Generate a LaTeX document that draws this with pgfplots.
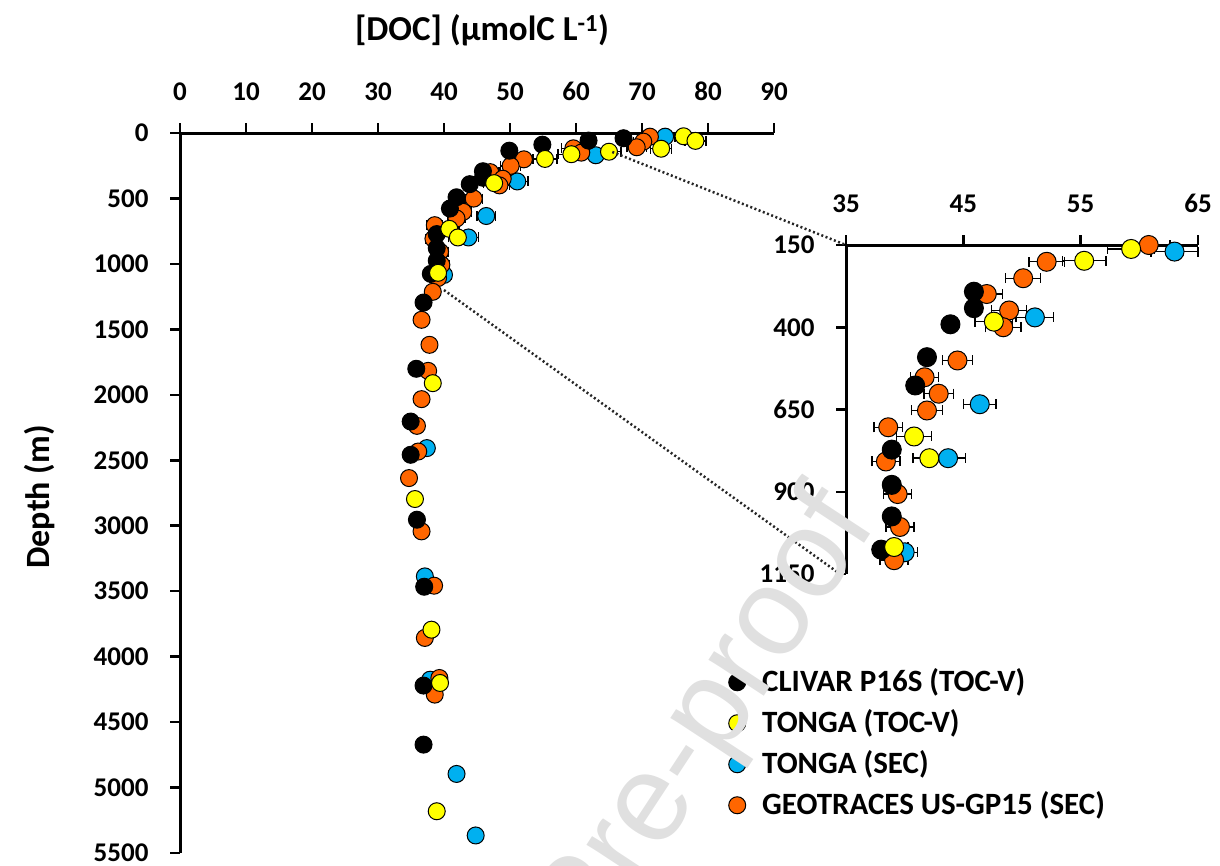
\documentclass[border=0pt]{standalone}
\usepackage{fontspec}
\setmainfont{Carlito}
\newfontfamily\wmfont{Liberation Sans}
\usepackage{pgfplots}
\usepackage{pgfplotstable}
\pgfplotsset{compat=1.18}

\definecolor{cyel}{RGB}{255,255,0}
\definecolor{cblu}{RGB}{0,176,240}
\definecolor{cora}{RGB}{255,102,0}

% x = [DOC] (umolC/L), y = depth (m), e = error
\pgfplotstableread{
x y
67.2 40
61.9 58
54.9 89
49.9 135
45.9 292
45.9 342
43.9 391
41.9 491
40.9 577
38.9 772
38.9 879
38.9 975
38.0 1076
36.9 1295
35.8 1801
34.95 2204
34.95 2458
35.9 2954
37.0 3466
36.9 4221
36.9 4672
}\tclivar

\pgfplotstableread{
x y e
76.3 25 1.0
78.1 60 1.6
72.9 120 1.6
65.0 143 1.8
59.3 162 2.0
55.3 198 1.85
47.6 383 1.6
40.8 732 1.5
42.1 798 1.4
39.1 1068 1.2
38.3 1911 0
35.6 2796 0
38.1 3794 0
39.4 4201 0
38.9 5181 0
}\ttongatoc

\pgfplotstableread{
x y e
73.5 28 1.5
63.0 170 2.0
51.1 370 1.6
46.4 634 1.4
43.7 798 1.5
40.0 1084 1.1
37.4 2407 0
37.1 3387 0
37.9 4176 0
41.9 4896 0
44.8 5366 0
}\ttongasec

\pgfplotstableread{
x y e
71.2 28 1.5
70.2 66 1.5
69.2 109 1.5
59.6 117 1.8
60.8 150 1.8
52.1 201 1.5
50.1 251 1.5
47.0 299 1.35
48.9 349 1.5
48.4 400 1.5
44.5 501 1.3
41.7 552 1.2
42.9 602 1.25
41.9 653 1.3
38.6 704 1.2
38.4 808 1.2
39.4 907 1.2
39.6 1007 1.2
39.1 1108 1.2
38.3 1213 0
36.6 1427 0
37.8 1618 0
37.6 1817 0
36.6 2033 0
35.9 2237 0
36.1 2433 0
34.7 2636 0
36.6 3043 0
38.5 3458 0
37.1 3857 0
39.3 4163 0
38.6 4290 0
}\tgeo

\pgfplotsset{
  docaxis/.style={
    scale only axis,
    y dir=reverse,
    axis x line=top,
    axis y line=left,
    axis line style={line width=3pt,-},
    every tick/.style={line width=2.5pt,black},
    major tick length=10pt,
    tick align=outside,
    ticklabel style={font=\bfseries\fontsize{27}{27}\selectfont},
    xticklabel style={yshift=19pt},
    yticklabel style={xshift=-18pt},
    /pgf/number format/assume math mode=true,
    /pgf/number format/1000 sep={},
    scaled ticks=false,
    clip=false,
  },
  ser/.style 2 args={only marks, mark=*, mark size=#2, draw=black,
    mark options={fill=#1,draw=black,line width=1pt}},
  ebars/.style={error bars/.cd, x dir=both, x explicit,
    error bar style={line width=1.4pt,black},
    error mark options={rotate=90,mark size=5pt,line width=1.4pt,black}},
}

\begin{document}
\begin{tikzpicture}
\path[use as bounding box] (0pt,0pt) rectangle (1220pt,-866pt);

\begin{axis}[docaxis,
  at={(180pt,-133pt)}, anchor=north west,
  width=594pt, height=720pt,
  xmin=0, xmax=90, xtick={0,10,...,90},
  ymin=0, ymax=5500, ytick={0,500,...,5500},
  legend style={at={(axis description cs:0.9209,0.2541)}, anchor=north west,
    draw=none, fill=none, inner sep=0pt,
    font=\bfseries\fontsize{31}{31}\selectfont,
    nodes={inner sep=0pt, text height=21pt, text depth=7pt},
    row sep=13pt},
  legend cell align=left,
  legend image code/.code={\path[draw=none] (0pt,0pt) -- (35pt,0pt);
    \draw[#1] plot coordinates {(10pt,2pt)};},
]
\addlegendimage{ser={black}{8.5pt}}
\addlegendentry{CLIVAR P16S (TOC-V)}
\addlegendimage{ser={cyel}{8.5pt}}
\addlegendentry{TONGA (TOC-V)}
\addlegendimage{ser={cblu}{8.5pt}}
\addlegendentry{TONGA (SEC)}
\addlegendimage{ser={cora}{8.5pt}}
\addlegendentry{GEOTRACES US-GP15 (SEC)}

\addplot[ser={cblu}{8.5pt}, forget plot, ebars] table[x=x,y=y,x error=e] {\ttongasec};
\addplot[ser={cora}{8.5pt}, forget plot, ebars] table[x=x,y=y,x error=e] {\tgeo};
\addplot[ser={black}{8.5pt}, forget plot] table[x=x,y=y] {\tclivar};
\addplot[ser={cyel}{8.5pt}, forget plot, ebars] table[x=x,y=y,x error=e] {\ttongatoc};

\coordinate (m1) at (axis cs:65.5,145);
\coordinate (m2) at (axis cs:40,1200);
\end{axis}

\begin{axis}[docaxis,
  at={(846pt,-245pt)}, anchor=north west,
  width=352pt, height=329pt,
  xmin=35, xmax=65, xtick={35,45,55,65},
  ymin=150, ymax=1150, ytick={150,400,650,900,1150},
  restrict x to domain=35:65,
  restrict y to domain=150:1150,
]
\addplot[ser={cblu}{9.5pt}, ebars] table[x=x,y=y,x error=e] {\ttongasec};
\addplot[ser={cora}{9.5pt}, ebars] table[x=x,y=y,x error=e] {\tgeo};
\addplot[ser={black}{9.5pt}] table[x=x,y=y] {\tclivar};
\addplot[ser={cyel}{9.5pt}, ebars] table[x=x,y=y,x error=e] {\ttongatoc};

\coordinate (i1) at (axis cs:35,150);
\coordinate (i2) at (axis cs:35,1150);
\end{axis}

\draw[line width=2.5pt, dash pattern=on 2pt off 2.5pt, black!85] (m1) -- (i1);
\draw[line width=2.5pt, dash pattern=on 2pt off 2.5pt, black!85] (m2) -- ([xshift=-6pt]i2);

\node[font=\bfseries\fontsize{35}{35}\selectfont] at (482pt,-30pt)
  {[DOC] (µmolC L\textsuperscript{-1})};
\node[rotate=90, font=\bfseries\fontsize{34}{34}\selectfont] at (40pt,-497pt)
  {Depth (m)};

\node[rotate=56.7, anchor=base east, text=black!12,
  font=\wmfont\fontsize{125}{125}\selectfont] at (880pt,-520pt)
  {Journal Pre-proof};
\end{tikzpicture}
\end{document}
